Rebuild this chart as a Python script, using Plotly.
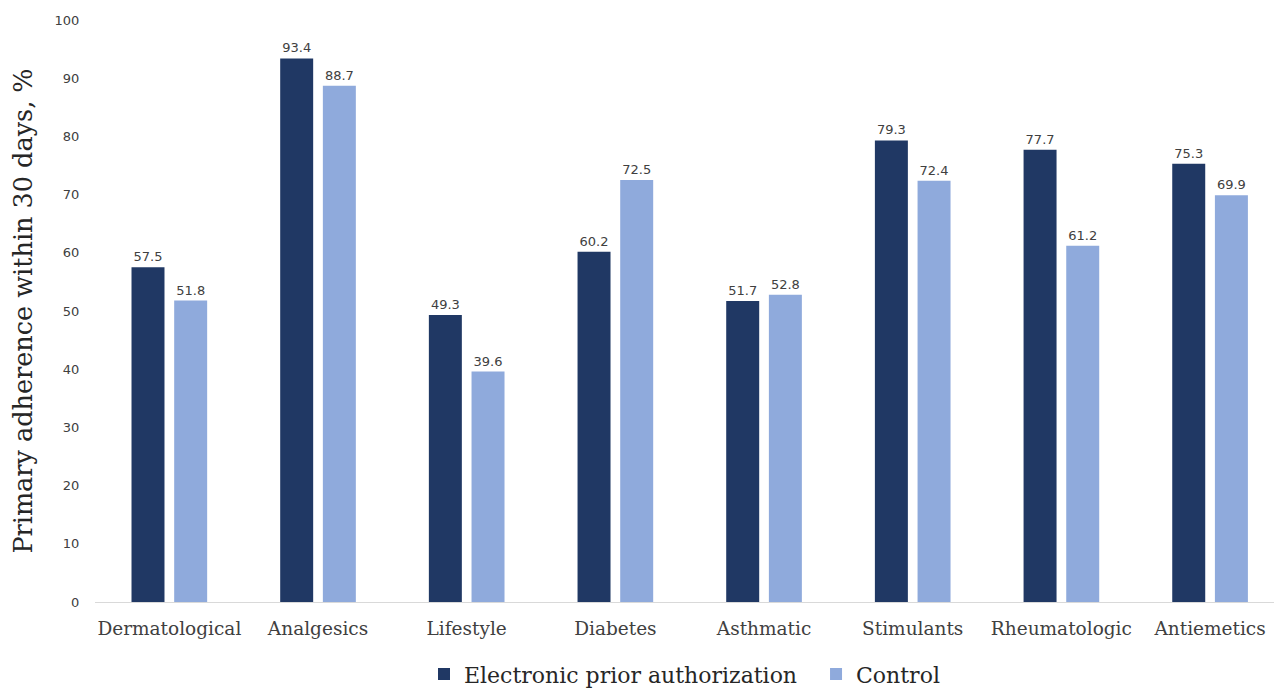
import plotly.graph_objects as go

categories = ["Dermatological", "Analgesics", "Lifestyle", "Diabetes", "Asthmatic",
              "Stimulants", "Rheumatologic", "Antiemetics"]
epa_values = [57.5, 93.4, 49.3, 60.2, 51.7, 79.3, 77.7, 75.3]
control_values = [51.8, 88.7, 39.6, 72.5, 52.8, 72.4, 61.2, 69.9]
y_ticks = [0, 10, 20, 30, 40, 50, 60, 70, 80, 90, 100]

SERIF = "DejaVu Serif"
SANS = "DejaVu Sans"

fig = go.Figure()
fig.add_trace(go.Bar(
    name="Electronic prior authorization\u00a0\u00a0", x=categories, y=epa_values,
    marker=dict(color="#203864", line=dict(width=0)),
    texttemplate="%{y:.1f}", textposition="outside", constraintext="none",
    textfont=dict(family=SANS, size=13, color="#404040"), cliponaxis=False,
))
fig.add_trace(go.Bar(
    name="Control", x=categories, y=control_values,
    marker=dict(color="#8FAADC", line=dict(width=0)),
    texttemplate="%{y:.1f}", textposition="outside", constraintext="none",
    textfont=dict(family=SANS, size=13, color="#404040"), cliponaxis=False,
))

fig.update_layout(
    width=1274, height=693,
    margin=dict(l=95, r=0, t=20, b=91, autoexpand=False),
    paper_bgcolor="white", plot_bgcolor="white",
    barmode="group", bargap=0.426, bargroupgap=0.227,
    showlegend=True,
    legend=dict(orientation="h", x=0.5, xanchor="center",
                y=-0.088, yanchor="top",
                font=dict(family=SERIF, size=22, color="#262626"),
                itemwidth=30, traceorder="normal"),
    xaxis=dict(range=[-0.5, 7.43], showline=True, linecolor="#D9D9D9", linewidth=1,
               ticks="outside", ticklen=10, tickcolor="rgba(0,0,0,0)",
               tickfont=dict(family=SERIF, size=18.5, color="#404040"),
               showgrid=False, zeroline=False),
    yaxis=dict(range=[0, 100], tickvals=y_ticks, showline=False, showgrid=False,
               zeroline=False, ticks="outside", ticklen=12, tickcolor="rgba(0,0,0,0)",
               tickfont=dict(family=SANS, size=13, color="#404040"),
               title=dict(text="Primary adherence within 30 days, %",
                          font=dict(family=SERIF, size=25.5, color="#262626"), standoff=14)),
)

fig.write_html("out.html")
